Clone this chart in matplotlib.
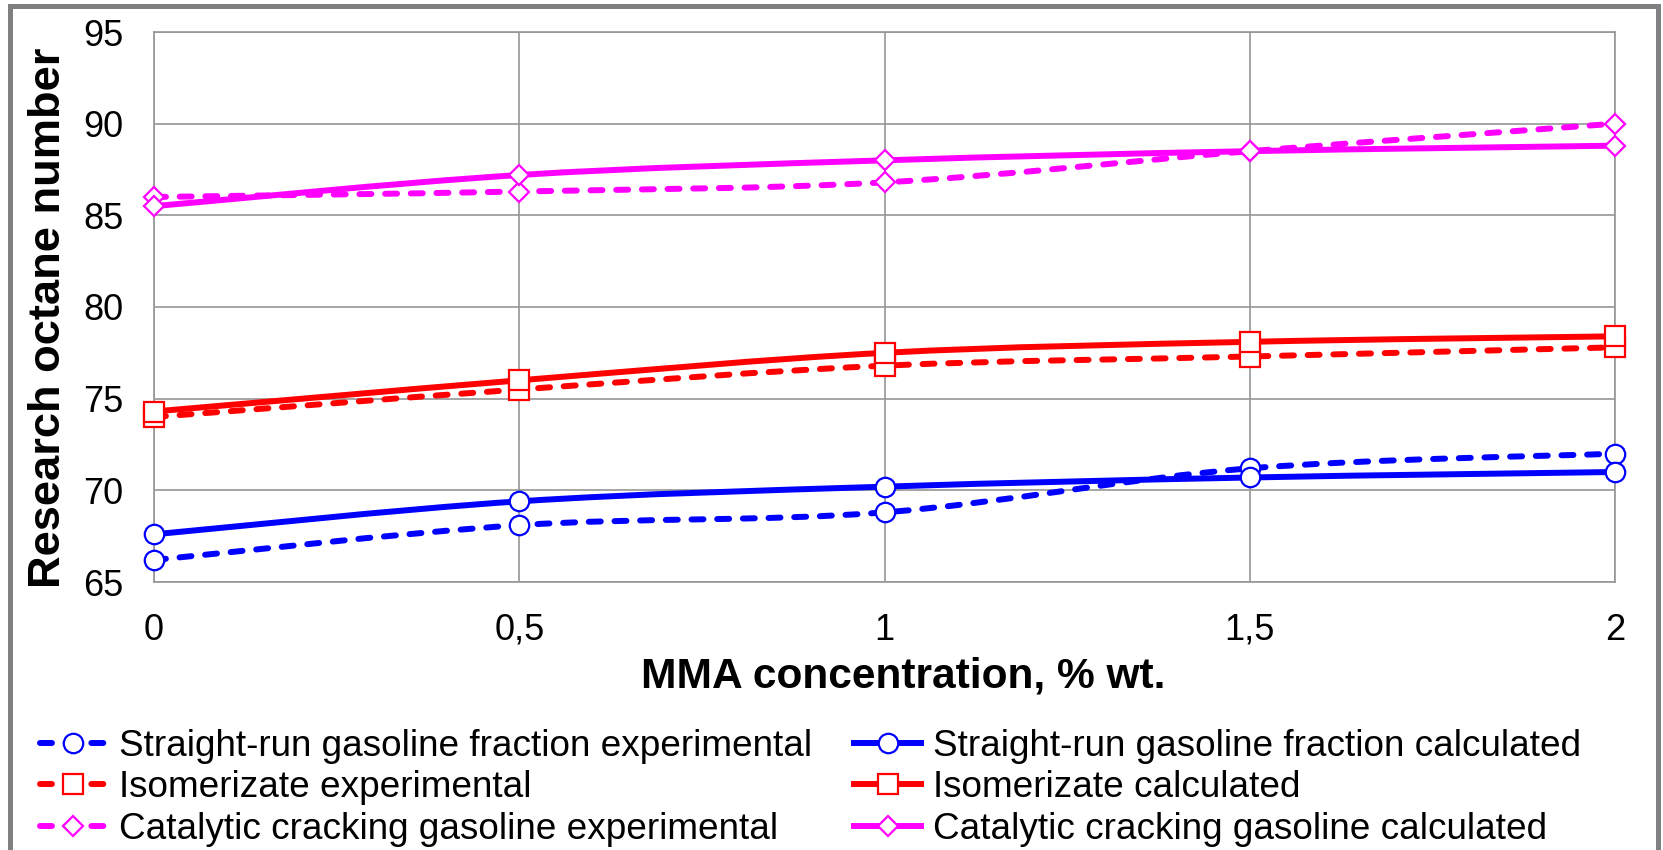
import numpy as np
import matplotlib
matplotlib.use("Agg")
import matplotlib.pyplot as plt
from matplotlib.path import Path
from matplotlib.patches import PathPatch, Rectangle
from matplotlib.lines import Line2D

plt.rcParams['font.family'] = ['Liberation Sans', 'DejaVu Sans']

# MMA concentration, % wt.
mma = [0, 0.5, 1, 1.5, 2]
x_tick_labels = ['0', '0,5', '1', '1,5', '2']
y_ticks = [65, 70, 75, 80, 85, 90, 95]

# Research octane number
straight_run_exp = [66.2, 68.1, 68.8, 71.2, 72.0]
straight_run_calc = [67.6, 69.4, 70.2, 70.7, 71.0]
isomerizate_exp = [74.0, 75.5, 76.8, 77.3, 77.8]
isomerizate_calc = [74.3, 76.0, 77.5, 78.1, 78.4]
cracking_exp = [86.0, 86.3, 86.8, 88.5, 90.0]
cracking_calc = [85.5, 87.2, 88.0, 88.5, 88.8]

labels = [
    'Straight-run gasoline fraction experimental',
    'Straight-run gasoline fraction calculated',
    'Isomerizate experimental',
    'Isomerizate calculated',
    'Catalytic cracking gasoline experimental',
    'Catalytic cracking gasoline calculated',
]

W, H = 1663, 850
DASH = (0, (2.0, 2.3))
LW = 4.3


def smooth_path(xs, ys):
    """Cubic Bezier path passing through the points (Catmull-Rom style)."""
    pts = np.column_stack([xs, ys]).astype(float)
    n = len(pts)
    verts = [pts[0]]
    codes = [Path.MOVETO]
    for i in range(n - 1):
        p0 = pts[i - 1] if i > 0 else pts[i]
        p1 = pts[i]
        p2 = pts[i + 1]
        p3 = pts[i + 2] if i + 2 < n else pts[i + 1]
        c1 = p1 + (p2 - p0) / 6.0
        c2 = p2 - (p3 - p1) / 6.0
        verts += [c1, c2, p2]
        codes += [Path.CURVE4] * 3
    return Path(verts, codes)


fig = plt.figure(figsize=(W / 100, H / 100), dpi=100)
fig.patch.set_facecolor('white')

ax = fig.add_axes([154 / W, 1 - 582 / H, (1615 - 154) / W, (582 - 32) / H])
ax.set_xlim(0, 2)
ax.set_ylim(65, 95)
ax.set_xticks(mma)
ax.set_xticklabels(x_tick_labels)
ax.set_yticks(y_ticks)
ax.tick_params(length=0, labelsize=26, pad=22)
ax.grid(True, color='#969696', lw=1.2)
ax.set_axisbelow(True)
for sp in ax.spines.values():
    sp.set_color('#969696')
    sp.set_linewidth(1.2)

series = [
    (straight_run_exp, '#0000FF', 'o', 14.0, 'dash', labels[0]),
    (straight_run_calc, '#0000FF', 'o', 14.0, 'solid', labels[1]),
    (isomerizate_exp, '#FF0000', 's', 14.0, 'dash', labels[2]),
    (isomerizate_calc, '#FF0000', 's', 14.0, 'solid', labels[3]),
    (cracking_exp, '#FF00FF', 'D', 10.5, 'dash', labels[4]),
    (cracking_calc, '#FF00FF', 'D', 10.5, 'solid', labels[5]),
]

handles = {}
for k, (vals, color, marker, ms, style, label) in enumerate(series):
    ls = DASH if style == 'dash' else '-'
    patch = PathPatch(smooth_path(mma, vals), fill=False, edgecolor=color,
                      lw=LW, linestyle=ls, zorder=3 + k * 0.1)
    patch.set_capstyle('round' if style == 'dash' else 'butt')
    patch.set_joinstyle('round')
    ax.add_patch(patch)
    ax.plot(mma, vals, ls='none', marker=marker, ms=ms, mfc='white',
            mec=color, mew=1.6, zorder=3.05 + k * 0.1, clip_on=False)
    h = Line2D([], [], color=color, lw=LW, ls=ls, marker=marker, ms=ms,
               mfc='white', mec=color, mew=1.6)
    if style == 'dash':
        h.set_dash_capstyle('round')
    handles[label] = h

order = [labels[0], labels[2], labels[4], labels[1], labels[3], labels[5]]
fig.legend([handles[l] for l in order], order, ncol=2, loc='upper left',
           bbox_to_anchor=(40 / W, 1 - 729 / H), frameon=False, fontsize=26.6,
           handlelength=1.8, handletextpad=0.33, columnspacing=1.15,
           labelspacing=0.17, borderpad=0, borderaxespad=0)

fig.text(903 / W, 1 - 687 / H, 'MMA concentration, % wt.', ha='center',
         va='baseline', fontsize=30.6, fontweight='bold')
fig.text(49 / W, 1 - 318 / H, 'Research octane number', ha='center',
         va='center', rotation=90, fontsize=32.6, fontweight='bold')

# outer chart frame
frame = Rectangle((9.5 / W, -0.1), (1657.5 - 9.5) / W, 1.1 - 6.5 / H,
                  transform=fig.transFigure, fill=False, ec='#808080',
                  lw=3.6, zorder=10)
fig.add_artist(frame)

fig.savefig('out.png', dpi=100, facecolor='white')
